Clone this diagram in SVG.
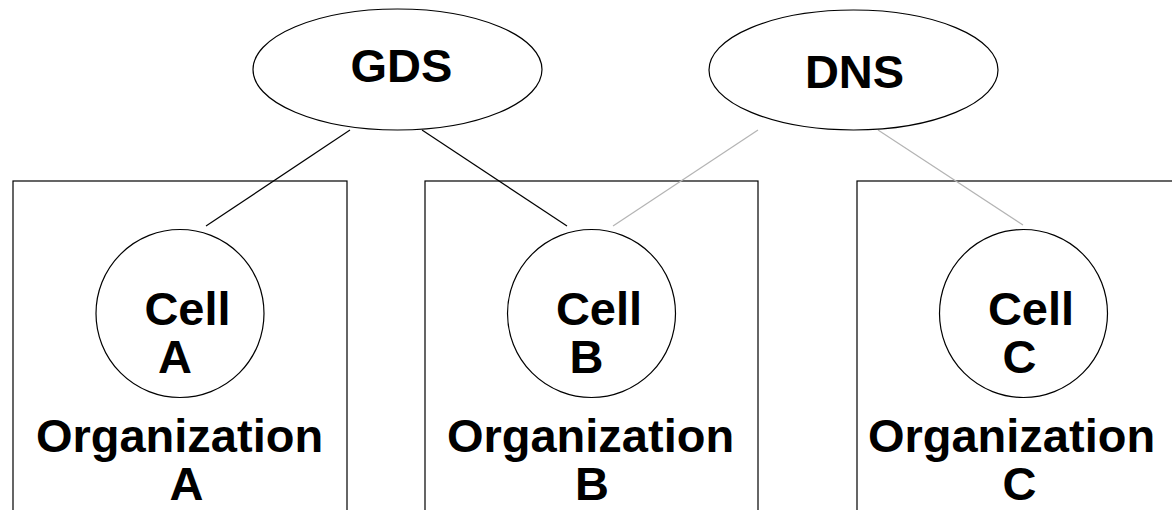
<svg xmlns="http://www.w3.org/2000/svg" width="1172" height="510" viewBox="0 0 1172 510">
<style>
.shape{fill:#fff;stroke:#000;stroke-width:1.2}
.box{fill:none;stroke:#000;stroke-width:1.2}
.t{font-family:"Liberation Sans",Arial,sans-serif;font-weight:bold;font-size:47px;fill:#000;text-anchor:middle}
.blk{stroke:#000;stroke-width:1.2;fill:none}
.gry{stroke:#b4b4b4;stroke-width:1.2;fill:none}
</style>
<rect width="1172" height="510" fill="#fff"/>
<g id="orgA">
<rect class="box" x="13" y="181" width="334" height="340"/>
<text class="t" x="179.5" y="452">Organization</text>
<text class="t" x="186.5" y="500">A</text>
</g>
<g id="orgB">
<rect class="box" x="425" y="181" width="333" height="340"/>
<text class="t" x="590.5" y="452">Organization</text>
<text class="t" x="592" y="500">B</text>
</g>
<g id="orgC">
<rect class="box" x="857" y="181" width="334" height="340"/>
<text class="t" x="1011.5" y="452">Organization</text>
<text class="t" x="1019.5" y="500">C</text>
</g>
<g id="connectors">
<line class="blk" x1="350" y1="130" x2="206" y2="226"/>
<line class="blk" x1="422" y1="130" x2="567" y2="226"/>
<line class="gry" x1="758" y1="130" x2="613" y2="226"/>
<line class="gry" x1="878" y1="130" x2="1023" y2="225"/>
</g>
<g id="gds">
<ellipse class="shape" cx="397.5" cy="69.5" rx="144.5" ry="60.5"/>
<text class="t" x="401.5" y="82">GDS</text>
</g>
<g id="dns">
<ellipse class="shape" cx="853.5" cy="70" rx="144.5" ry="60"/>
<text class="t" x="854.5" y="88">DNS</text>
</g>
<g id="cellA">
<circle class="shape" cx="180" cy="313.5" r="84"/>
<text class="t" x="187.5" y="325">Cell</text>
<text class="t" x="175" y="373">A</text>
</g>
<g id="cellB">
<circle class="shape" cx="591.5" cy="313.5" r="84"/>
<text class="t" x="599" y="325">Cell</text>
<text class="t" x="586.5" y="373">B</text>
</g>
<g id="cellC">
<circle class="shape" cx="1023.5" cy="313.5" r="84"/>
<text class="t" x="1031" y="325">Cell</text>
<text class="t" x="1019.5" y="373">C</text>
</g>
</svg>
